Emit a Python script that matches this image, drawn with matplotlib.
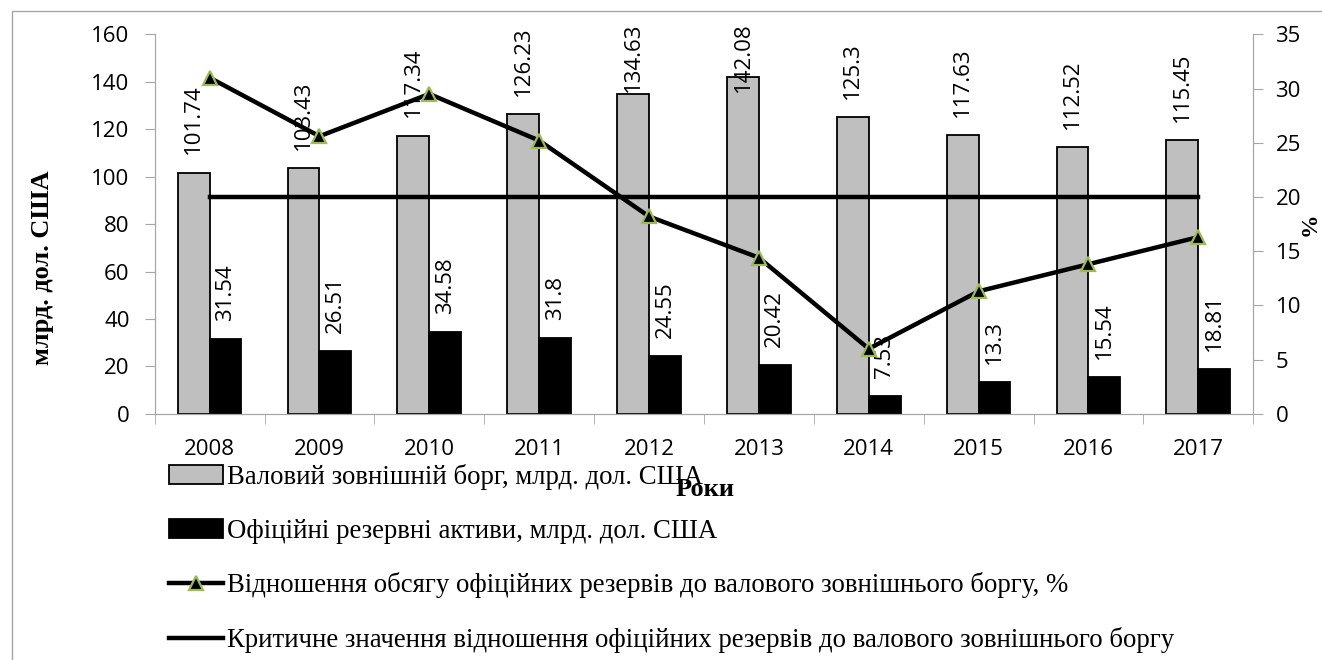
import matplotlib.pyplot as plt
import matplotlib.patches as mpatches
import numpy as np

years = ['2008', '2009', '2010', '2011', '2012', '2013', '2014', '2015', '2016', '2017']
debt = [101.74, 103.43, 117.34, 126.23, 134.63, 142.08, 125.3, 117.63, 112.52, 115.45]
reserves = [31.54, 26.51, 34.58, 31.8, 24.55, 20.42, 7.53, 13.3, 15.54, 18.81]
ratio = [31.0, 25.6, 29.5, 25.2, 18.2, 14.4, 6.0, 11.3, 13.8, 16.3]
critical = [20] * 10

sans = 'Open Sans'
serif = 'Liberation Serif'
grey = '#a6a6a6'

fig = plt.figure(figsize=(13.22, 6.6), dpi=100)
ax = fig.add_axes([0.117, 0.373, 0.831, 0.575])
ax2 = ax.twinx()

x = np.arange(len(years))
w = 0.29
b1 = ax.bar(x - w / 2, debt, w, color='#bfbfbf', edgecolor='black', linewidth=1.3,
            label='Валовий зовнішній борг, млрд. дол. США')
b2 = ax.bar(x + w / 2, reserves, w, color='black', edgecolor='black', linewidth=1.3,
            label='Офіційні резервні активи, млрд. дол. США')

# labels sit just above the bars, but Excel pushes the tall ones down to stay inside
gap, cap = 7.6, 135.6
for xi, v in zip(x, debt):
    ax.text(xi - w / 2, min(v + gap, cap), str(v), rotation=90, ha='center', va='bottom',
            fontsize=16, family=sans)
for xi, v in zip(x, reserves):
    ax.text(xi + w / 2, v + gap, str(v), rotation=90, ha='center', va='bottom',
            fontsize=16, family=sans)

l1, = ax2.plot(x, ratio, color='black', linewidth=3.2, marker='^', markersize=10,
               markerfacecolor='black', markeredgecolor='#9bbb59', markeredgewidth=1.6,
               label='Відношення обсягу офіційних резервів до валового зовнішнього боргу, %')
l2, = ax2.plot(x, critical, color='black', linewidth=3.2,
               label='Критичне значення відношення офіційних резервів до валового зовнішнього боргу')

ax.set_xlim(-0.5, 9.5)
ax.set_ylim(0, 160)
ax.set_yticks(range(0, 161, 20))
ax2.set_ylim(0, 35)
ax2.set_yticks(range(0, 36, 5))
ax.set_xticks(x)
ax.set_xticklabels(years)
ax.set_xticks(np.arange(-0.5, 10, 1), minor=True)
ax.tick_params(axis='x', which='major', length=0, pad=18)
ax.tick_params(axis='x', which='minor', length=7, color=grey)
ax.tick_params(axis='y', length=7, color=grey, pad=11)
ax2.tick_params(axis='y', length=7, color=grey, pad=9)
for a in (ax, ax2):
    for lab in a.get_xticklabels() + a.get_yticklabels():
        lab.set_family(sans)
        lab.set_fontsize(16)
    a.spines['top'].set_visible(False)
    for s in ('left', 'right', 'bottom'):
        a.spines[s].set_color(grey)

ax.set_ylabel('млрд. дол. США', family=serif, fontsize=19, fontweight='bold')
ax.yaxis.set_label_coords(-0.092, 0.384)
ax2.set_ylabel('%', family=serif, fontsize=17, fontweight='bold', labelpad=-1)
fig.text(0.533, 0.258, 'Роки', family=serif, fontsize=19, fontweight='bold',
         ha='center', va='center')

fig.legend(handles=[b1, b2, l1, l2], loc='upper left', bbox_to_anchor=(0.128, 0.297),
           frameon=False, prop={'family': serif, 'size': 19.3}, labelspacing=1.07,
           handlelength=2.0, handletextpad=0.15, borderaxespad=0, borderpad=0)

fig.patches.append(mpatches.Rectangle((0.009, -0.01), 1.5, 0.993, transform=fig.transFigure,
                                      fill=False, edgecolor=grey, linewidth=1))

fig.savefig('out.png', dpi=100)
